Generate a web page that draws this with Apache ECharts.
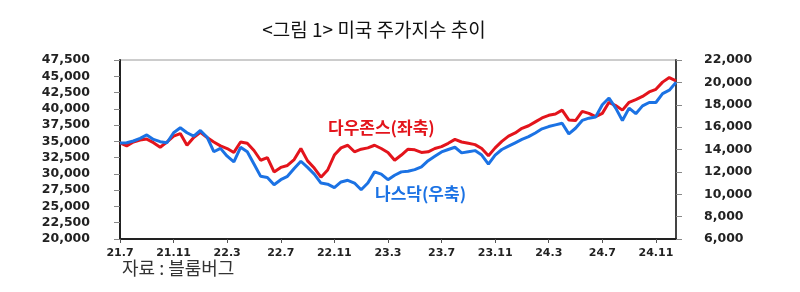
<!DOCTYPE html>
<html><head><meta charset="utf-8">
<script src="https://cdn.jsdelivr.net/npm/echarts@6/dist/echarts.min.js"></script>
<style>html,body{margin:0;padding:0;background:#fff}#c{width:800px;height:292px}</style>
</head><body><div id="c"></div>
<script>
// Half-month observation dates (1st and 16th), Jul 2021 – mid Dec 2024
var startYear = 2021, startMonth = 7, monthsCount = 42;
var categories = [];
for (var k = 0; k < monthsCount; k++) {
  var yy = startYear + Math.floor((startMonth - 1 + k) / 12);
  var mm = (startMonth - 1 + k) % 12 + 1;
  categories.push((yy % 100) + '.' + mm + '|a');
  categories.push((yy % 100) + '.' + mm + '|b');
}
var tickLabels = ['21.7','21.11','22.3','22.7','22.11','23.3','23.7','23.11','24.3','24.7','24.11'];

var dowValues = [
  34750,34300,34900,35200,35350,34800,34100,34900,35800,36200,
  34400,35600,36400,35600,34900,34300,33900,33300,34900,34700,
  33600,32100,32500,30300,31000,31300,32200,33900,32000,30900,
  29500,30600,32900,34000,34400,33400,33800,34000,34400,33900,
  33300,32100,32900,33800,33700,33300,33400,33900,34200,34700,
  35300,34900,34700,34500,33900,32800,34000,35000,35800,36300,
  37000,37400,38000,38600,39000,39200,39800,38300,38200,39600,
  39300,38800,39300,41000,40500,39800,41000,41400,41900,42600,
  43000,44100,44800,44300
];
var nasdaqValues = [
  14580,14600,14760,15000,15300,14900,14700,14600,15500,15950,
  15500,15200,15700,15100,13800,14100,13400,12900,14200,13800,
  12700,11600,11500,10850,11300,11600,12300,12950,12400,11800,
  11000,10900,10600,11100,11250,11000,10400,11000,12000,11800,
  11300,11700,12000,12050,12200,12450,13000,13400,13780,14000,
  14200,13700,13800,13900,13500,12700,13500,14000,14300,14600,
  14900,15150,15480,15850,16050,16200,16350,15400,15900,16600,
  16800,16900,18000,18600,17700,16600,17700,17200,17900,18200,
  18200,19000,19300,20000
];

var dowName = '다우존스(좌축)';
var nasdaqName = '나스닥(우축)';
var titleText = '<그림 1> 미국 주가지수 추이';
var sourceText = '자료 : 블룸버그';

function fmtComma(v){ return String(v).replace(/\B(?=(\d{3})+(?!\d))/g, ','); }
function isTick(idx){
  var c = categories[idx];
  return c.slice(-1) === 'a' && tickLabels.indexOf(c.split('|')[0]) >= 0;
}

var RED = '#E3141C', BLUE = '#1B72E4';
var chart = echarts.init(document.getElementById('c'), null, {renderer:'canvas'});
chart.setOption({
  animation: false,
  backgroundColor: '#fff',
  grid: {left: 120, right: 124, top: 60, bottom: 53, show: true, borderColor: '#9a9a9a', borderWidth: 1},
  xAxis: {
    type: 'category', data: categories, boundaryGap: false,
    axisLine: {lineStyle: {color: '#222', width: 2}},
    axisTick: {show: true, length: 4, interval: function(i){ return isTick(i); }, lineStyle: {color: '#555'}},
    axisLabel: {interval: function(i){ return isTick(i); }, formatter: function(v){ return v.split('|')[0]; },
      fontFamily: 'DejaVu Sans', fontWeight: 'bold', fontSize: 11, color: '#222', margin: 9},
    splitLine: {show: false}
  },
  yAxis: [
    {type: 'value', min: 20000, max: 47500, interval: 2500, position: 'left',
     axisLine: {show: true, lineStyle: {color: '#222', width: 2}},
     axisTick: {show: true, length: 6, lineStyle: {color: '#888'}},
     axisLabel: {formatter: fmtComma, fontFamily: 'DejaVu Sans', fontWeight: 'bold', fontSize: 12.5, color: '#222', margin: 30},
     splitLine: {show: false}},
    {type: 'value', min: 6000, max: 22000, interval: 2000, position: 'right',
     axisLine: {show: true, lineStyle: {color: '#444', width: 2}},
     axisTick: {show: true, length: 6, lineStyle: {color: '#888'}},
     axisLabel: {formatter: fmtComma, fontFamily: 'DejaVu Sans', fontWeight: 'bold', fontSize: 12.5, color: '#222', margin: 28},
     splitLine: {show: false}}
  ],
  series: [
    {name: dowName, type: 'line', yAxisIndex: 0, data: dowValues, showSymbol: false, symbol: 'none',
     lineStyle: {color: RED, width: 3}, z: 3},
    {name: nasdaqName, type: 'line', yAxisIndex: 1, data: nasdaqValues, showSymbol: false, symbol: 'none',
     lineStyle: {color: BLUE, width: 3}, z: 4}
  ],
  graphic: [
    {type: 'text', x: 374, y: 30, style: {text: titleText, fontFamily: 'Noto Sans CJK KR', fontSize: 19, fill: '#111', align: 'center', verticalAlign: 'middle'}},
    {type: 'text', x: 122, y: 268, style: {text: sourceText, fontFamily: 'Noto Sans CJK KR', fontSize: 18, fill: '#333', align: 'left', verticalAlign: 'middle'}},
    {type: 'text', x: 328, y: 128, z: 10, style: {text: dowName, fontFamily: 'Noto Sans CJK KR', fontWeight: 'bold', fontSize: 17, fill: RED, align: 'left', verticalAlign: 'middle'}},
    {type: 'text', x: 375, y: 194, z: 10, style: {text: nasdaqName, fontFamily: 'Noto Sans CJK KR', fontWeight: 'bold', fontSize: 17, fill: BLUE, align: 'left', verticalAlign: 'middle'}}
  ]
});
</script></body></html>
